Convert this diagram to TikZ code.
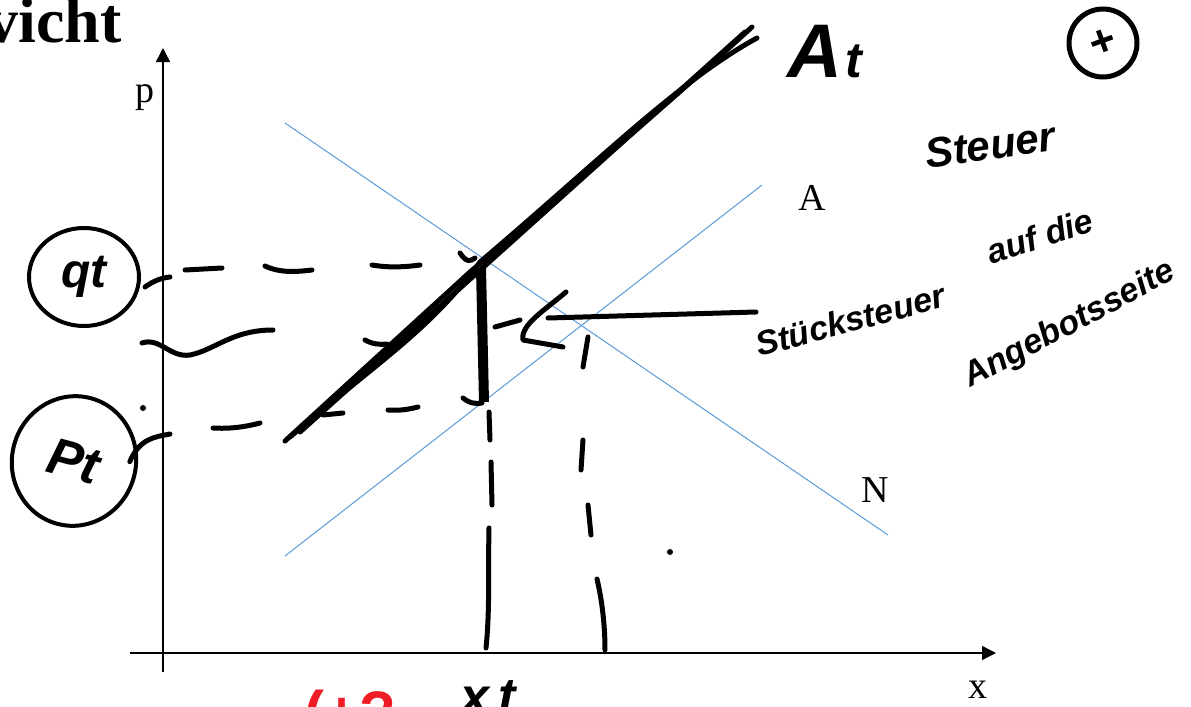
\documentclass[tikz,border=0pt]{standalone}
\usepackage{fontspec}
\setmainfont{Liberation Serif}
\newfontfamily\handfont{Liberation Sans}
\usetikzlibrary{arrows.meta,shapes.geometric}
\definecolor{curveblue}{HTML}{5B9BD5}
\definecolor{penred}{HTML}{EE1C25}
\tikzset{
  axis/.style={line width=0.7pt, -{Triangle[length=7pt,width=7pt]}},
  curve/.style={curveblue, line width=0.5pt},
  pen/.style={line width=2.5pt, line cap=round, line join=round},
  hand/.style={font=\handfont\bfseries\itshape, inner sep=0pt},
  lbl/.style={font=\fontsize{19}{22}\selectfont, inner sep=0pt},
  ring/.style={draw, ellipse, line width=2pt, inner sep=0pt}
}

\begin{document}
\begin{tikzpicture}[x=0.5pt,y=-0.5pt]
\useasboundingbox (0,0) rectangle (1191,707);

\node[anchor=base east, inner sep=0pt, font=\fontsize{32}{34}\selectfont\bfseries] (title) at (122,42) {vicht};

% axes
\coordinate (ybot) at (163,672);
\coordinate (ytop) at (163,48);
\coordinate (xleft) at (130,653);
\coordinate (xright) at (996,653);
\draw[axis] (ybot) -- (ytop);
\draw[axis] (xleft) -- (xright);
\node[lbl] (plbl) at (145,98) {p};
\node[lbl] (xlbl) at (978,690) {x};

% supply and demand
\coordinate (n1) at (285,123);
\coordinate (n2) at (888,535);
\coordinate (a1) at (285,556);
\coordinate (a2) at (762,185);
\draw[curve] (n1) -- (n2);
\draw[curve] (a1) -- (a2);
\node[lbl] (Albl) at (812,198) {A};
\node[lbl] (Nlbl) at (875,490) {N};

% shifted supply A_t (pen strokes)
\draw[pen] (285,441) -- (470,272) .. controls (560,195) and (650,120) .. (752,27);
\draw[pen] (290,437) .. controls (380,360) and (430,330) .. (480,262) .. controls (600,160) and (680,80) .. (757,38);
\draw[pen] (300,432) -- (745,32);
\node[hand, anchor=west] (Atlbl) at (787,52) {{\fontsize{38}{38}\selectfont A}\,{\fontsize{25}{25}\selectfont t}};

% tax wedge
\draw[line width=5pt] (481,268) -- (484,402);
\draw[pen] (460,253) .. controls (466,262) and (470,262) .. (475,258);
\draw[pen] (463,398) .. controls (470,404) and (478,404) .. (482,403);
\draw[pen] (495,327) -- (520,320);

% q_t and p_t levels
\node[ring, minimum width=55pt, minimum height=49pt, hand, font=\handfont\bfseries\itshape\fontsize{24}{24}\selectfont] (qt) at (84,277) {qt};
\node[ring, minimum width=62pt, minimum height=65pt, rotate=-15, hand, font=\handfont\bfseries\itshape\fontsize{26}{26}\selectfont] (pt) at (74,461) {Pt};
\draw[pen] (qt.east) ++(4,10) .. controls (152,282) and (160,278) .. (170,277);
\draw[pen] (185,270) -- (222,268);
\draw[pen] (265,266) .. controls (280,273) and (295,272) .. (312,270);
\draw[pen] (372,265) .. controls (390,268) and (405,267) .. (420,265);
\draw[pen] (142,343) .. controls (160,337) and (170,358) .. (190,355) .. controls (215,350) and (232,330) .. (273,330);
\draw[pen] (365,340) .. controls (372,344) and (380,345) .. (387,344);
\draw[pen] (pt.east) ++(-6,-16) .. controls (140,438) and (155,437) .. (170,434);
\draw[pen] (213,428) .. controls (230,429) and (245,427) .. (260,423);
\draw[pen] (323,415) -- (343,413);
\draw[pen] (388,410) .. controls (400,411) and (410,409) .. (418,407);

% vertical drop lines
\draw[pen] (489,412) -- (490,440);
\draw[pen] (491,462) -- (492,505);
\draw[pen] (489,528) .. controls (488,570) and (490,610) .. (486,648);
\draw[pen] (588,337) -- (583,367);
\draw[pen] (583,440) -- (581,470);
\draw[pen] (588,505) -- (591,535);
\draw[pen] (597,579) .. controls (602,600) and (605,625) .. (605,650);
\node[hand, anchor=north, font=\handfont\bfseries\itshape\fontsize{26}{26}\selectfont] (xt) at (488,680) {x\,t};
\node[hand, anchor=north, text=penred, font=\handfont\bfseries\fontsize{30}{30}\selectfont] (redmark) at (350,690) {(+?};

% stray dots
\fill (143,408) circle (1.5pt);
\fill (670,552) circle (1.5pt);

% annotation on the right
\node[hand, font=\handfont\bfseries\itshape\fontsize{17}{17}\selectfont, rotate=15] (stueck) at (850,320) {Stücksteuer};
\coordinate (lineend) at (756,312);
\draw[pen] (lineend) -- (548,318);
\draw[pen] (566,292) .. controls (545,310) and (520,325) .. (523,340) -- (563,347);
\node[hand, font=\handfont\bfseries\itshape\fontsize{17}{17}\selectfont, rotate=18] (aufdie) at (1040,236) {auf die};
\node[hand, font=\handfont\bfseries\itshape\fontsize{17}{17}\selectfont, rotate=28] (angebot) at (1070,325) {Angebotsseite};
\node[hand, font=\handfont\bfseries\itshape\fontsize{21}{21}\selectfont, rotate=8] (steuer) at (990,145) {Steuer};
\node[draw, circle, line width=2.5pt, minimum size=34pt, inner sep=0pt, font=\handfont\bfseries\fontsize{22}{22}\selectfont] (plus) at (1103,43) {\rotatebox{20}{+}};
\end{tikzpicture}
\end{document}
